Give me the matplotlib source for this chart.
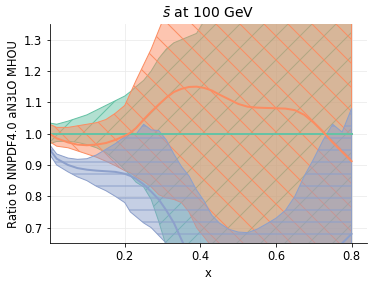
import matplotlib
matplotlib.use("Agg")
import matplotlib.pyplot as plt
from matplotlib.colors import to_rgba
import numpy as np

x = [0.001, 0.02, 0.05, 0.075, 0.1, 0.125, 0.15, 0.175, 0.2, 0.215, 0.23, 0.25,
     0.27, 0.29, 0.31, 0.33, 0.35, 0.37, 0.39, 0.41, 0.43, 0.45, 0.475, 0.5,
     0.525, 0.55, 0.575, 0.6, 0.625, 0.65, 0.675, 0.7, 0.725, 0.75, 0.775, 0.8]

# NNPDF4.0 aN3LO MHOU (reference, green)
green_central = [1.0] * len(x)
green_upper = [1.034, 1.03, 1.04, 1.05, 1.06, 1.075, 1.09, 1.105, 1.12, 1.134, 1.15, 1.17,
               1.20, 1.24, 1.27, 1.29, 1.30, 1.31, 1.32, 1.36, 1.40, 1.45, 1.50, 1.55,
               1.58, 1.60, 1.60, 1.60, 1.60, 1.60, 1.60, 1.60, 1.60, 1.60, 1.60, 1.60]
green_lower = [0.968, 0.975, 0.976, 0.972, 0.965, 0.955, 0.94, 0.915, 0.885, 0.866, 0.845, 0.83,
               0.79, 0.72, 0.64, 0.60, 0.57, 0.55, 0.52, 0.50, 0.48, 0.46, 0.45, 0.44,
               0.43, 0.42, 0.42, 0.42, 0.42, 0.42, 0.42, 0.42, 0.42, 0.42, 0.42, 0.42]

# second set (orange)
orange_central = [1.0, 0.985, 0.972, 0.965, 0.963, 0.965, 0.97, 0.98, 0.993, 1.003, 1.018, 1.045,
                  1.07, 1.093, 1.115, 1.133, 1.143, 1.149, 1.15, 1.146, 1.138, 1.125, 1.11, 1.095,
                  1.086, 1.083, 1.082, 1.081, 1.08, 1.075, 1.06, 1.035, 1.005, 0.972, 0.942, 0.912]
orange_upper = [1.03, 1.02, 1.02, 1.025, 1.03, 1.035, 1.045, 1.065, 1.09, 1.13, 1.17, 1.22,
                1.27, 1.33, 1.39, 1.45, 1.48, 1.50, 1.52, 1.54, 1.55, 1.56, 1.57, 1.58,
                1.58, 1.58, 1.58, 1.58, 1.58, 1.58, 1.58, 1.58, 1.58, 1.58, 1.58, 1.58]
orange_lower = [0.975, 0.96, 0.955, 0.945, 0.935, 0.925, 0.912, 0.898, 0.882, 0.875, 0.862, 0.848,
                0.83, 0.805, 0.795, 0.79, 0.78, 0.75, 0.70, 0.67, 0.64, 0.60, 0.57, 0.55,
                0.54, 0.53, 0.53, 0.53, 0.53, 0.53, 0.53, 0.53, 0.53, 0.53, 0.53, 0.53]

# third set (blue)
blue_central = [0.95, 0.92, 0.90, 0.89, 0.885, 0.882, 0.88, 0.878, 0.872, 0.865, 0.856, 0.838,
                0.815, 0.79, 0.755, 0.715, 0.662, 0.61, 0.56, 0.52, 0.49, 0.47, 0.45, 0.44,
                0.44, 0.44, 0.44, 0.45, 0.46, 0.47, 0.49, 0.51, 0.55, 0.60, 0.65, 0.68]
blue_upper = [0.965, 0.935, 0.922, 0.918, 0.92, 0.932, 0.95, 0.968, 0.99, 1.003, 0.998, 1.03,
              1.012, 1.01, 0.98, 0.935, 0.895, 0.865, 0.82, 0.785, 0.74, 0.715, 0.695, 0.686,
              0.684, 0.695, 0.712, 0.73, 0.755, 0.80, 0.865, 0.92, 0.98, 1.03, 1.005, 1.08]
blue_lower = [0.935, 0.90, 0.878, 0.862, 0.85, 0.832, 0.818, 0.80, 0.78, 0.75, 0.735, 0.715,
              0.70, 0.675, 0.65, 0.62, 0.60, 0.57, 0.54, 0.50, 0.47, 0.44, 0.42, 0.41,
              0.40, 0.40, 0.40, 0.40, 0.40, 0.40, 0.40, 0.40, 0.40, 0.40, 0.40, 0.40]

colors = ["#66c2a5", "#fc8d62", "#8da0cb"]
hatches = ["/", "\\", "-"]

fig = plt.figure(figsize=(374 / 72, 285 / 72), dpi=72)
ax = fig.add_axes([0.1324, 0.1463, 0.848, 0.7695])

bands = [(green_lower, green_upper), (orange_lower, orange_upper), (blue_lower, blue_upper)]
centrals = [green_central, orange_central, blue_central]

for (lo, hi), c, h in zip(bands, colors, hatches):
    ax.fill_between(x, lo, hi, facecolor=to_rgba(c, 0.5), edgecolor=c,
                    hatch=h, linewidth=1.0)
for cen, c in zip(centrals, colors):
    ax.plot(x, cen, color=c, linewidth=2)

ax.set_xlim(0.001, 0.84)
ax.set_ylim(0.65, 1.35)
ax.set_xticks([0.2, 0.4, 0.6, 0.8])
ax.set_yticks([0.7, 0.8, 0.9, 1.0, 1.1, 1.2, 1.3])
ax.grid(True, color="#ebebeb", linewidth=0.8)
ax.set_axisbelow(True)
for s in ["top", "right"]:
    ax.spines[s].set_visible(False)
ax.tick_params(labelsize=11.5)
ax.set_xlabel("x", fontsize=11.5)
ax.set_ylabel("Ratio to NNPDF4.0 aN3LO MHOU", fontsize=11.5)
ax.set_title(r"$\bar{s}$ at 100 GeV", fontsize=14)

fig.savefig("out.png", dpi=72)
